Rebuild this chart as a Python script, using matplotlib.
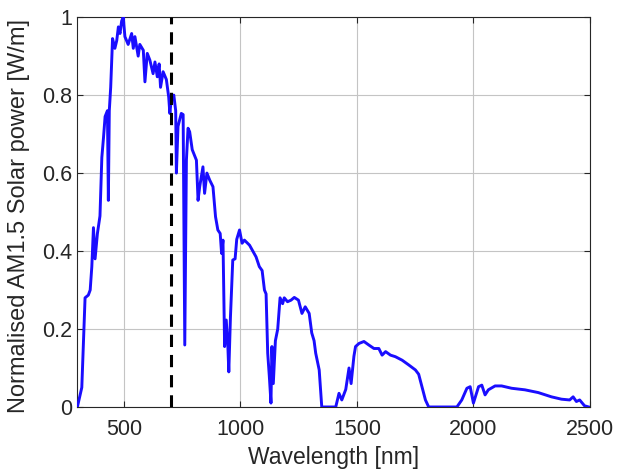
import matplotlib
matplotlib.use("Agg")
import matplotlib.pyplot as plt

wavelength = [300, 319, 333, 347, 355, 362, 369, 376, 386, 397, 405, 412, 419, 429, 433,
              437, 443, 451, 461, 469, 476, 483, 490, 497, 504, 518, 533, 540, 547, 561,
              568, 583, 590, 600, 611, 625, 633, 643, 651, 657, 668, 682, 692, 697, 704,
              714, 722, 725, 732, 746, 754, 761, 768, 775, 782, 793, 811, 818, 825, 839,
              846, 856, 868, 882, 893, 903, 913, 919, 925, 932, 939, 946, 950, 957, 967,
              977, 984, 996, 1007, 1017, 1039, 1067, 1081, 1093, 1103, 1110, 1117, 1124,
              1131, 1135, 1141, 1150, 1160, 1170, 1181, 1188, 1202, 1217, 1231, 1249, 1264,
              1278, 1295, 1306, 1316, 1323, 1338, 1349, 1409, 1423, 1435, 1452, 1466, 1475,
              1480, 1487, 1494, 1509, 1530, 1551, 1573, 1594, 1608, 1623, 1644, 1665, 1694,
              1722, 1751, 1765, 1779, 1794, 1808, 1929, 1950, 1972, 1986, 2000, 2022, 2036,
              2050, 2064, 2093, 2121, 2164, 2221, 2278, 2335, 2378, 2413, 2428, 2442, 2456,
              2477, 2495]
power = [0.0, 0.05, 0.28, 0.287, 0.30, 0.36, 0.46, 0.38, 0.445, 0.49, 0.64, 0.69, 0.745,
         0.76, 0.53, 0.76, 0.82, 0.945, 0.92, 0.94, 0.975, 0.958, 0.99, 1.0, 0.95, 0.93,
         0.958, 0.92, 0.95, 0.90, 0.93, 0.915, 0.834, 0.907, 0.89, 0.855, 0.885, 0.847,
         0.88, 0.82, 0.86, 0.84, 0.795, 0.753, 0.796, 0.80, 0.76, 0.60, 0.72, 0.753, 0.75,
         0.159, 0.633, 0.715, 0.706, 0.66, 0.633, 0.53, 0.565, 0.616, 0.548, 0.60, 0.582,
         0.565, 0.488, 0.454, 0.445, 0.394, 0.428, 0.155, 0.223, 0.155, 0.09, 0.23, 0.377,
         0.38, 0.43, 0.454, 0.42, 0.428, 0.415, 0.385, 0.36, 0.35, 0.30, 0.29, 0.138, 0.078,
         0.01, 0.155, 0.06, 0.17, 0.20, 0.28, 0.265, 0.28, 0.27, 0.274, 0.281, 0.274, 0.24,
         0.257, 0.24, 0.19, 0.17, 0.138, 0.095, 0.0, 0.0, 0.035, 0.018, 0.045, 0.10, 0.06,
         0.09, 0.13, 0.155, 0.163, 0.168, 0.159, 0.15, 0.15, 0.133, 0.142, 0.133, 0.129,
         0.12, 0.108, 0.095, 0.084, 0.052, 0.018, 0.0, 0.0, 0.018, 0.048, 0.052, 0.01,
         0.052, 0.056, 0.031, 0.044, 0.054, 0.054, 0.048, 0.044, 0.037, 0.026, 0.02, 0.018,
         0.026, 0.014, 0.018, 0.003, 0.0]

marker_wavelength = 700
x_ticks = [500, 1000, 1500, 2000, 2500]
y_ticks = [0, 0.2, 0.4, 0.6, 0.8, 1]
y_tick_labels = ["0", "0.2", "0.4", "0.6", "0.8", "1"]

plt.rcParams['font.family'] = ['Liberation Sans', 'DejaVu Sans']

fig = plt.figure(figsize=(6.19, 4.76), dpi=100)
ax = fig.add_axes([0.125, 0.145, 0.828, 0.819])

ax.plot(wavelength, power, color='#1a0dff', lw=2.1, zorder=3)
ax.axvline(marker_wavelength, color='black', lw=2.2, ls=(0, (4, 2.6)), zorder=4)

ax.set_xlim(300, 2500)
ax.set_ylim(0, 1)
ax.set_xticks(x_ticks)
ax.set_yticks(y_ticks)
ax.set_yticklabels(y_tick_labels)
ax.grid(True, color='#c4c4c4', lw=0.8)
ax.set_axisbelow(True)
ax.tick_params(direction='in', labelsize=15.5, colors='#262626', length=4, width=0.8,
               top=True, right=True)
ax.tick_params(axis='x', pad=8.5)
for s in ax.spines.values():
    s.set_color('#262626')
    s.set_linewidth(0.8)

ax.set_xlabel("Wavelength [nm]", fontsize=16.5, color='#262626')
ax.xaxis.set_label_coords(0.5, -0.1)
fig.text(0.0302, 1 - 216 / 476, "Normalised AM1.5 Solar power [W/m]",
         rotation=90, ha='center', va='center', fontsize=17, color='#262626')

fig.savefig("out.png", dpi=100)
